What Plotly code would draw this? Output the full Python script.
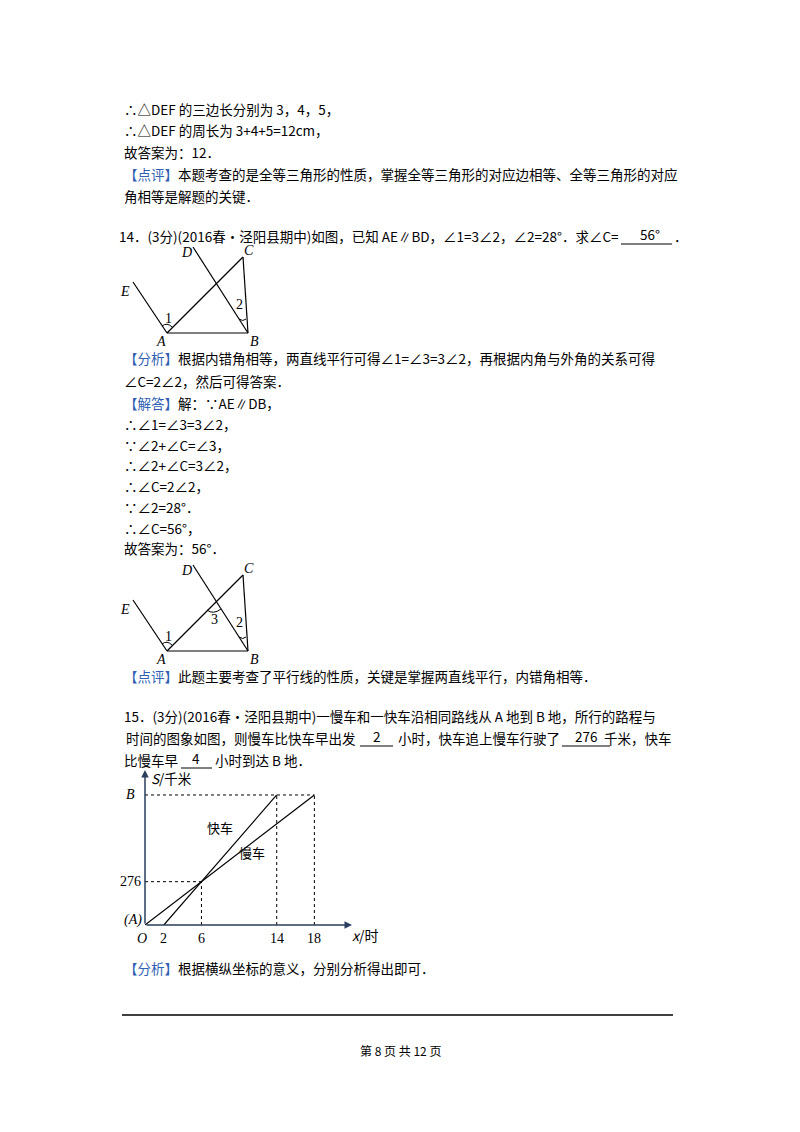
import plotly.graph_objects as go

# chart data (hours, km)
slow_x = [0, 18]
slow_y = [0, 828]
fast_x = [2, 14]
fast_y = [0, 828]
meet_x, meet_y = 6, 276
x_ticks = [2, 6, 14, 18]
B_val = 828

FONT = "Noto Sans CJK SC"
SERIF = "Liberation Serif"
BLUE = "#2f5fb3"
OFF = 8  # browser body margin

W, H = 800, 1132

fig = go.Figure()

# page layer: pixel coordinates
fig.update_layout(
    width=W, height=H, margin=dict(l=0, r=0, t=0, b=0),
    plot_bgcolor="white", paper_bgcolor="white", showlegend=False,
    xaxis=dict(range=[OFF, W + OFF], visible=False, domain=[0, 1], fixedrange=True),
    yaxis=dict(range=[H + OFF, OFF], visible=False, domain=[0, 1], fixedrange=True),
    font=dict(family=FONT, size=13.5, color="black"),
)

def txt(x, y, s, size=13.5, anchor="left", color="black", family=FONT):
    fig.add_annotation(x=x, y=y, text=s, showarrow=False, xanchor=anchor,
                       yanchor="middle", xref="x", yref="y",
                       font=dict(size=size, color=color, family=family))

def seg(x0, y0, x1, y1, width=1.2):
    fig.add_shape(type="line", x0=x0, y0=y0, x1=x1, y1=y1, xref="x", yref="y",
                  line=dict(color="black", width=width))

def tag(s):
    return f"<span style='color:{BLUE}'>【{s}】</span>"

L = 122
txt(L, 109, "∴△DEF 的三边长分别为 3，4，5，")
txt(L, 130, "∴△DEF 的周长为 3+4+5=12cm，")
txt(L, 152, "故答案为：12．")
txt(L, 174, tag("点评") + "本题考查的是全等三角形的性质，掌握全等三角形的对应边相等、全等三角形的对应")
txt(L, 196, "角相等是解题的关键．")

txt(621, 236, "14．(3分)(2016春•泾阳县期中)如图，已知 AE∥BD，∠1=3∠2，∠2=28°．求∠C=", anchor="right")
seg(621, 244, 672, 244, 1)
txt(650, 234, "56°", anchor="center")
txt(672, 236, "．")

def figure(dy, show3):
    A = (167, 333 + dy); B = (248, 333 + dy); C = (243, 257 + dy)
    E = (133, 282 + dy); D = (193, 247 + dy)
    seg(*E, *A); seg(*A, *B); seg(*A, *C); seg(*C, *B); seg(*D, *B)
    fs = 14
    txt(125, 291 + dy, "<i>E</i>", fs, "center", family=SERIF)
    txt(186, 252 + dy, "<i>D</i>", fs, "center", family=SERIF)
    txt(249, 250 + dy, "<i>C</i>", fs, "center", family=SERIF)
    txt(161, 341 + dy, "<i>A</i>", fs, "center", family=SERIF)
    txt(254, 341 + dy, "<i>B</i>", fs, "center", family=SERIF)
    txt(168, 318 + dy, "1", fs, "center", family=SERIF)
    txt(239, 304 + dy, "2", fs, "center", family=SERIF)
    fig.add_shape(type="path", xref="x", yref="y",
                  path=f"M 162 {326+dy} Q 167 {322+dy} 172 {327+dy}",
                  line=dict(color="black", width=1))
    fig.add_shape(type="path", xref="x", yref="y",
                  path=f"M 239 {319+dy} Q 243 {322+dy} 246 {319+dy}",
                  line=dict(color="black", width=1))
    if show3:
        txt(214, 301 + dy, "3", fs, "center", family=SERIF)
        fig.add_shape(type="path", xref="x", yref="y",
                      path=f"M 207 {292+dy} Q 213 {297+dy} 221 {291+dy}",
                      line=dict(color="black", width=1))

figure(0, False)

txt(L, 358, tag("分析") + "根据内错角相等，两直线平行可得∠1=∠3=3∠2，再根据内角与外角的关系可得")
txt(L, 381, "∠C=2∠2，然后可得答案．")
txt(L, 403, tag("解答") + "解：∵AE∥DB，")
sol = ["∴∠1=∠3=3∠2，", "∵∠2+∠C=∠3，", "∴∠2+∠C=3∠2，", "∴∠C=2∠2，",
       "∵∠2=28°．", "∴∠C=56°，", "故答案为：56°．"]
for i, s in enumerate(sol):
    txt(L, 424 + 20.7 * i, s)

figure(318, True)

txt(L, 676, tag("点评") + "此题主要考查了平行线的性质，关键是掌握两直线平行，内错角相等．")

txt(L, 716, "15．(3分)(2016春•泾阳县期中)一慢车和一快车沿相同路线从 A 地到 B 地，所行的路程与")
txt(358, 738, "时间的图象如图，则慢车比快车早出发", anchor="right")
seg(360, 746, 393, 746, 1); txt(377, 736, "2", anchor="center")
txt(396, 738, "小时，快车追上慢车行驶了")
seg(562, 746, 610, 746, 1); txt(586, 736, "276", anchor="center")
txt(674, 738, "千米，快车", anchor="right")
txt(L, 760, "比慢车早")
seg(181, 768, 212, 768, 1); txt(196, 758, "4", anchor="center")
txt(213, 760, "小时到达 B 地．")

# the S-t chart on its own axes (pixel -> paper fraction, minus body offset)
X0, X1, Y0, Y1 = 145, 352, 925, 770
fig.update_layout(
    xaxis2=dict(domain=[(X0 - OFF) / W, (X1 - OFF) / W], range=[0, 22], anchor="y2",
                showgrid=False, zeroline=False, showticklabels=False, fixedrange=True),
    yaxis2=dict(domain=[(H - Y0 + OFF) / H, (H - Y1 + OFF) / H], range=[0, 987],
                anchor="x2", showgrid=False, zeroline=False, showticklabels=False,
                fixedrange=True),
)
dot = dict(color="black", width=1, dash="dot")
for x in [meet_x, 14, 18]:
    yv = meet_y if x == meet_x else B_val
    fig.add_trace(go.Scatter(x=[x, x], y=[0, yv], mode="lines", line=dot, xaxis="x2", yaxis="y2"))
fig.add_trace(go.Scatter(x=[0, meet_x], y=[meet_y, meet_y], mode="lines", line=dot, xaxis="x2", yaxis="y2"))
fig.add_trace(go.Scatter(x=[0, 18], y=[B_val, B_val], mode="lines", line=dot, xaxis="x2", yaxis="y2"))
fig.add_trace(go.Scatter(x=slow_x, y=slow_y, mode="lines", line=dict(color="black", width=1.2), xaxis="x2", yaxis="y2"))
fig.add_trace(go.Scatter(x=fast_x, y=fast_y, mode="lines", line=dict(color="black", width=1.2), xaxis="x2", yaxis="y2"))
# axes with arrows
fig.add_annotation(x=22, y=0, ax=0, ay=0, xref="x2", yref="y2", axref="x2", ayref="y2",
                   showarrow=True, arrowhead=2, arrowsize=1, arrowwidth=1.5, text="")
fig.add_annotation(x=0, y=987, ax=0, ay=0, xref="x2", yref="y2", axref="x2", ayref="y2",
                   showarrow=True, arrowhead=2, arrowsize=1, arrowwidth=1.5, text="")
for t in x_ticks:
    fig.add_annotation(x=t, y=0, xref="x2", yref="y2", text=str(t), showarrow=False,
                       yshift=-13, font=dict(family=SERIF, size=14))
fig.add_annotation(x=0, y=0, xref="x2", yref="y2", text="<i>O</i>", showarrow=False,
                   xshift=-3, yshift=-13, font=dict(family=SERIF, size=14))
fig.add_annotation(x=0, y=0, xref="x2", yref="y2", text="<i>(A)</i>", showarrow=False,
                   xanchor="right", xshift=-1, yshift=5, font=dict(family=SERIF, size=14))
fig.add_annotation(x=22, y=0, xref="x2", yref="y2", text="<i>x</i>/时", showarrow=False,
                   xanchor="left", xshift=-2, yshift=-10, font=dict(family=FONT, size=14))
fig.add_annotation(x=0, y=987, xref="x2", yref="y2", text="<i>S</i>/千米", showarrow=False,
                   xanchor="left", xshift=4, yshift=-8, font=dict(family=FONT, size=13.5))
fig.add_annotation(x=0, y=meet_y, xref="x2", yref="y2", text="276", showarrow=False,
                   xanchor="right", xshift=-2, font=dict(family=SERIF, size=14))
fig.add_annotation(x=0, y=B_val, xref="x2", yref="y2", text="<i>B</i>", showarrow=False,
                   xanchor="right", xshift=-8, font=dict(family=SERIF, size=14))
fig.add_annotation(x=8, y=620, xref="x2", yref="y2", text="快车", showarrow=False,
                   font=dict(family=FONT, size=13))
fig.add_annotation(x=11.4, y=460, xref="x2", yref="y2", text="慢车", showarrow=False,
                   font=dict(family=FONT, size=13))

txt(L, 968, tag("分析") + "根据横纵坐标的意义，分别分析得出即可．")
seg(122, 1015, 673, 1015, 1.5)
txt(400, 1050, "第 8 页 共 12 页", 12, "center")

fig.write_html("out.html")
